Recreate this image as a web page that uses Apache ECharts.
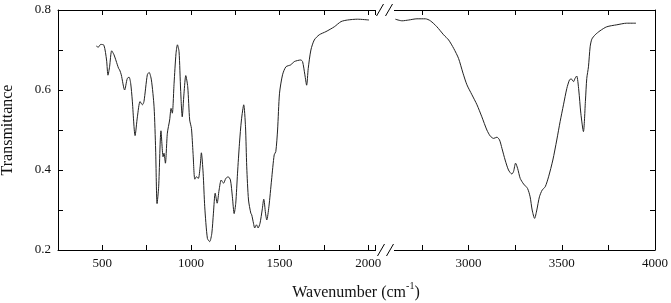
<!DOCTYPE html>
<html>
<head>
<meta charset="utf-8">
<script src="https://cdn.jsdelivr.net/npm/echarts@6/dist/echarts.min.js"></script>
<style>html,body{margin:0;padding:0;background:#fff;}#c{width:671px;height:303px;}</style>
</head>
<body>
<div id="c"></div>
<script>
// ---- data ----
const leftWavenumbers = [466,477,491,509,524,532,541,553,566,585,592,598,607,626,641,651,660,669,685,698,713,726,735,754,764,777,792,801,809,818,831,843,848,856,867,880,888,895,905,916,924,933,942,951,961,971,982,993,1003,1012,1022,1031,1042,1052,1059,1069,1078,1093,1106,1118,1127,1137,1148,1159,1171,1184,1197,1210,1223,1234,1244,1253,1263,1274,1285,1298,1308,1315,1325,1338,1343,1353,1360,1370,1379,1390,1402,1411,1421,1428,1440,1455,1470,1479,1489,1500,1517,1536,1564,1583,1620,1630,1643,1653,1662,1677,1696,1724,1762,1809,1847,1884,1940,2005];
const leftTransmittance = [0.710,0.707,0.714,0.712,0.675,0.637,0.658,0.698,0.688,0.663,0.654,0.650,0.638,0.600,0.629,0.632,0.617,0.575,0.486,0.533,0.571,0.563,0.571,0.638,0.644,0.625,0.558,0.450,0.316,0.358,0.498,0.433,0.442,0.417,0.492,0.525,0.554,0.542,0.617,0.692,0.713,0.696,0.600,0.533,0.592,0.636,0.608,0.525,0.504,0.442,0.377,0.383,0.379,0.408,0.443,0.392,0.308,0.229,0.221,0.242,0.292,0.342,0.317,0.350,0.375,0.367,0.379,0.383,0.375,0.333,0.291,0.317,0.392,0.467,0.525,0.563,0.508,0.408,0.325,0.292,0.288,0.267,0.255,0.263,0.255,0.267,0.300,0.327,0.292,0.275,0.308,0.375,0.438,0.446,0.500,0.592,0.638,0.658,0.663,0.671,0.675,0.671,0.638,0.612,0.654,0.700,0.725,0.738,0.746,0.758,0.771,0.775,0.777,0.775];
const rightWavenumbers = [2607,2643,2679,2723,2768,2795,2830,2866,2893,2920,2946,2970,2991,3018,3045,3071,3098,3116,3134,3152,3166,3179,3196,3214,3232,3241,3252,3263,3277,3295,3316,3330,3341,3354,3366,3380,3395,3411,3429,3452,3473,3491,3509,3527,3541,3550,3563,3571,3580,3591,3602,3616,3627,3634,3643,3652,3661,3679,3705,3741,3795,3848,3898];
const rightTransmittance = [0.777,0.773,0.775,0.778,0.778,0.773,0.758,0.738,0.725,0.704,0.679,0.642,0.613,0.588,0.563,0.533,0.500,0.485,0.479,0.482,0.475,0.454,0.425,0.400,0.390,0.396,0.417,0.404,0.379,0.365,0.354,0.333,0.300,0.279,0.300,0.333,0.350,0.358,0.383,0.425,0.475,0.521,0.563,0.604,0.625,0.628,0.621,0.629,0.635,0.600,0.542,0.496,0.575,0.629,0.658,0.708,0.727,0.738,0.748,0.758,0.763,0.767,0.767];
const leftXLabels = [500,1000,1500,2000];
const rightXLabels = [3000,3500,4000];
const yLabels = [0.2,0.4,0.6,0.8];

const zip = (xs, ys) => xs.map((x, i) => [x, ys[i]]);
const FONT = 'Liberation Serif';
const axisLineDef = () => ({ show: true, onZero: false, lineStyle: { color: '#000', width: 1 } });
const tickDef = () => ({ show: true, inside: true, length: 5, interval: 0, lineStyle: { color: '#000', width: 1, opacity: 1 } });
const labelStyle = () => ({ fontFamily: FONT, fontSize: 13, color: '#111' });

function xAxisDef(grid, pos, min, max, labels, showLabels) {
  return {
    type: 'value', gridIndex: grid, position: pos, min: min, max: max, interval: 250,
    axisLine: axisLineDef(),
    axisTick: tickDef(),
    axisLabel: Object.assign({
      show: showLabels, margin: 7,
      formatter: v => (labels.indexOf(Math.round(v)) >= 0 ? String(Math.round(v)) : '')
    }, labelStyle()),
    splitLine: { show: false }
  };
}
function yAxisDef(grid, pos, showLabels, extra) {
  return Object.assign({
    type: 'value', gridIndex: grid, position: pos, min: 0.2, max: 0.8, interval: 0.1,
    axisLine: axisLineDef(),
    axisTick: tickDef(),
    axisLabel: Object.assign({
      show: showLabels, margin: 7,
      formatter: v => {
        const r = Math.round(v * 10) / 10;
        return yLabels.some(l => Math.abs(l - r) < 1e-9) ? r.toFixed(1) : '';
      }
    }, labelStyle()),
    splitLine: { show: false }
  }, extra || {});
}

function slash(cx, cy) {
  return { type: 'line', z: 101, shape: { x1: cx - 3.5, y1: cy + 6, x2: cx + 3.5, y2: cy - 6 }, style: { stroke: '#000', lineWidth: 1 } };
}
function cover(y) {
  return { type: 'rect', z: 100, shape: { x: 376, y: y - 7, width: 18, height: 14 }, style: { fill: '#fff' } };
}

const chart = echarts.init(document.getElementById('c'), null, { renderer: 'canvas' });
chart.setOption({
  animation: false,
  backgroundColor: '#fff',
  grid: [
    { left: 58, top: 10, width: 319, height: 240, containLabel: false, outerBoundsMode: 'none' },
    { left: 375.4, top: 10, width: 279.6, height: 240, containLabel: false, outerBoundsMode: 'none' }
  ],
  xAxis: [
    xAxisDef(0, 'bottom', 250, 2050, leftXLabels, true),
    xAxisDef(0, 'top', 250, 2050, leftXLabels, false),
    xAxisDef(1, 'bottom', 2500, 4000, rightXLabels, true),
    xAxisDef(1, 'top', 2500, 4000, rightXLabels, false)
  ],
  yAxis: [
    yAxisDef(0, 'left', true, {
      name: 'Transmittance', nameLocation: 'middle', nameRotate: 90, nameGap: 42,
      nameTextStyle: { fontFamily: FONT, fontSize: 16, color: '#111' }
    }),
    yAxisDef(1, 'right', false)
  ],
  series: [
    { type: 'line', xAxisIndex: 0, yAxisIndex: 0, data: zip(leftWavenumbers, leftTransmittance), showSymbol: false, smooth: 0.25, lineStyle: { color: '#222', width: 1 } },
    { type: 'line', xAxisIndex: 2, yAxisIndex: 1, data: zip(rightWavenumbers, rightTransmittance), showSymbol: false, smooth: 0.25, lineStyle: { color: '#222', width: 1 } }
  ],
  graphic: [
    cover(10), cover(250),
    slash(380, 10), slash(389, 10), slash(381, 250), slash(390, 250),
    {
      type: 'text', z: 100, x: 356, y: 291,
      style: {
        text: '{n|Wavenumber (cm}{s|-1}{n|)}',
        align: 'center', verticalAlign: 'middle',
        fontFamily: FONT, fontSize: 16, fill: '#111',
        rich: {
          n: { fontFamily: FONT, fontSize: 16, lineHeight: 20, verticalAlign: 'bottom', fill: '#111' },
          s: { fontFamily: FONT, fontSize: 10, lineHeight: 20, verticalAlign: 'top', fill: '#111' }
        }
      }
    }
  ]
});
</script>
</body>
</html>
